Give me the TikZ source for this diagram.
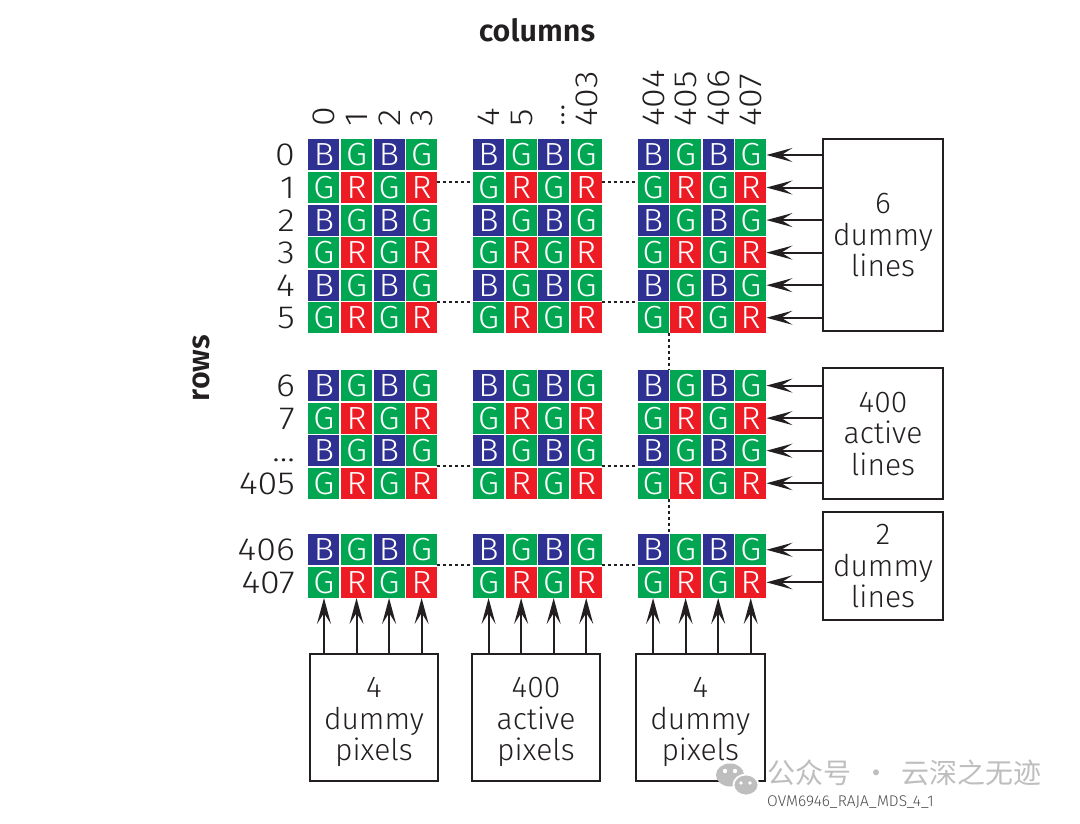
\documentclass[tikz,border=0pt]{standalone}
\usepackage{fontspec}
\setmainfont{Fira Sans Light}[BoldFont={Fira Sans SemiBold}]
\newfontfamily\labfont{Fira Sans Light}[FakeStretch=1.12]
\newfontfamily\cellfont{Fira Sans Light}[FakeStretch=1.06]
\newfontfamily\cjkfont{Noto Sans CJK SC}
\usetikzlibrary{arrows.meta}
\definecolor{cB}{RGB}{46,49,146}
\definecolor{cG}{RGB}{0,166,81}
\definecolor{cR}{RGB}{237,28,36}
\definecolor{ink}{RGB}{35,31,32}
\definecolor{wm}{RGB}{190,190,190}
\begin{document}
\begin{tikzpicture}[x=1pt,y=-1pt,
  cell/.style={minimum size=31pt, inner sep=0pt, text=white, font=\cellfont\fontsize{32}{32}\selectfont},
  rowlab/.style={anchor=east, inner sep=0pt, text height=22pt, text depth=0pt, text=ink, font=\labfont\fontsize{32}{32}\selectfont},
  collab/.style={rotate=90, anchor=west, inner sep=0pt, text height=22pt, text depth=0pt, text=ink, font=\labfont\fontsize{32}{32}\selectfont},
  infobox/.style={draw=ink, line width=2pt, align=center, text=ink, inner sep=0pt, font=\fontsize{30}{31.5}\selectfont},
  arr/.style={draw=ink, line width=2pt, -{Stealth[length=26pt, width=14pt, inset=11pt]}},
  dotline/.style={draw=ink, line width=2pt, dash pattern=on 3pt off 3pt},
  heading/.style={text=ink, font=\fontsize{30.5}{30.5}\bfseries\selectfont, inner sep=0pt}
]
\path[use as bounding box, fill=white] (0,0) rectangle (1080,823);

% cells
\foreach \g/\T/\n in {1/138.7/5, 2/369.3/3, 3/533.5/1} {
  \foreach \r in {0,...,\n} {
    \foreach \b/\X in {1/307.7, 2/472.3, 3/636.8} {
      \foreach \k in {1,...,4} {
        \pgfmathtruncatemacro\rp{mod(\r,2)}
        \pgfmathtruncatemacro\kp{mod(\k,2)}
        \ifnum\rp=0 \ifnum\kp=1 \def\L{B}\else\def\L{G}\fi\else\ifnum\kp=1 \def\L{G}\else\def\L{R}\fi\fi
        \node[cell, fill=c\L] (cell-\g-\r-\b-\k) at (\X+\k*32.55-16.275, \T+\r*32.55+16.275) {\L};
      }
    }
  }
}

% headings
\node[heading] (colhead) at (537,30) {columns};
\node[heading, rotate=90] (rowhead) at (201.7,368) {rows};

% row labels
\coordinate (lx) at (295,0);
\foreach \g/\r/\lab in {1/0/0,1/1/1,1/2/2,1/3/3,1/4/4,1/5/5,2/0/6,2/1/7,2/2/…,2/3/405,3/0/406,3/1/407}
  \node[rowlab] (rl-\g-\r) at (cell-\g-\r-1-1.center -| lx) {\lab};

% column labels
\coordinate (ly) at (0,127);
\foreach \b/\k/\lab in {1/1/0,1/2/1,1/3/2,1/4/3,2/1/4,2/2/5,2/3/…,2/4/403,3/1/404,3/2/405,3/3/406,3/4/407}
  \node[collab] (cl-\b-\k) at (cell-1-0-\b-\k.center |- ly) {\lab};

% right boxes
\node[infobox, minimum width=120.6pt, minimum height=192pt] (rbox1) at (883,235) {\rule{0pt}{21pt}6\\dummy\\lines};
\node[infobox, minimum width=120.6pt, minimum height=130.7pt] (rbox2) at (883,433.7) {400\\active\\lines};
\node[infobox, minimum width=120.6pt, minimum height=107.7pt] (rbox3) at (883,566.2) {2\\dummy\\lines};

% bottom boxes
\node[infobox, minimum width=128pt, minimum height=127.5pt] (bbox1) at (374,717.3) {\rule{0pt}{30pt}4\\dummy\\pixels};
\node[infobox, minimum width=128pt, minimum height=127.5pt] (bbox2) at (536,717.3) {\rule{0pt}{30pt}400\\active\\pixels};
\node[infobox, minimum width=129pt, minimum height=127.5pt] (bbox3) at (700.3,717.3) {\rule{0pt}{30pt}4\\dummy\\pixels};

% right arrows
\foreach \g/\n in {1/5,2/3,3/1}
  \foreach \r in {0,...,\n}
    \draw[arr] (rbox\g.west |- cell-\g-\r-3-4.east) -- (cell-\g-\r-3-4.east);

% bottom arrows
\foreach \b in {1,2,3}
  \foreach \k in {1,...,4}
    \draw[arr] (bbox\b.north -| cell-3-1-\b-\k.south) -- (cell-3-1-\b-\k.south);

% dotted connectors
\foreach \a/\c in {1/2, 2/3} {
  \draw[dotline] ([yshift=5.8pt]cell-1-1-\a-4.east) -- ([yshift=5.8pt]cell-1-1-\c-1.west);
  \draw[dotline] ([yshift=-1.5pt]cell-1-4-\a-4.south east) -- ([yshift=-1.5pt]cell-1-4-\c-1.south west);
  \draw[dotline] (cell-2-2-\a-4.south east) -- (cell-2-2-\c-1.south west);
  \draw[dotline] (cell-3-0-\a-4.south east) -- (cell-3-0-\c-1.south west);
}
\draw[dotline] (cell-1-5-3-1.south east) -- (cell-2-0-3-1.north east);
\draw[dotline] (cell-2-3-3-1.south east) -- (cell-3-0-3-1.north east);

% watermark
\fill[wm] (730,775) ellipse [x radius=14pt, y radius=11.5pt];
\fill[wm, draw=white, line width=1.8pt] (746,785) ellipse [x radius=12.5pt, y radius=10.5pt];
\fill[white] (725,771) circle (2.2pt) (735,771) circle (2.2pt) (741,783) circle (1.8pt) (750,783) circle (1.8pt);
\node[anchor=west, inner sep=0pt, text=wm, font=\cjkfont\fontsize{28}{28}\selectfont] (wmtext) at (767,773) {公众号\hspace{0.4em}·\hspace{0.4em}云深之无迹};
\node[anchor=west, inner sep=0pt, text=ink!80, font=\fontsize{15.5}{15.5}\selectfont] (figid) at (767,802) {OVM6946\_RAJA\_MDS\_4\_1};
\end{tikzpicture}
\end{document}
